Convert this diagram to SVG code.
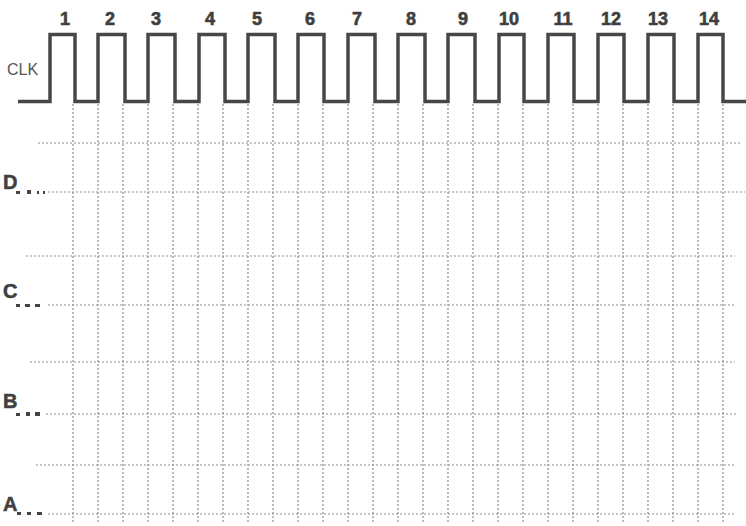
<svg xmlns="http://www.w3.org/2000/svg" width="746" height="526" viewBox="0 0 746 526">
<style>
.grid line{stroke:#8e8e8e;stroke-width:1.2;stroke-dasharray:2 2;fill:none}
.clk{fill:none;stroke:#474747;stroke-width:3.5;stroke-linejoin:miter}
.num{font-family:"Liberation Sans",Arial,sans-serif;font-weight:bold;font-size:18px;fill:#3f3f3f;stroke:#3f3f3f;stroke-width:0.6;text-anchor:middle}
.lab{font-family:"Liberation Sans",Arial,sans-serif;font-weight:bold;font-size:20px;fill:#404040;stroke:#404040;stroke-width:0.5}
.dots rect{fill:#444}
.clklab{font-family:"Liberation Sans",Arial,sans-serif;font-size:16px;fill:#555}
</style>
<rect width="746" height="526" fill="#ffffff"/>
<g id="connectors" class="grid">
<line x1="73" y1="104" x2="73" y2="522"/>
<line x1="98" y1="104" x2="98" y2="522"/>
<line x1="123" y1="104" x2="123" y2="522"/>
<line x1="148" y1="104" x2="148" y2="522"/>
<line x1="173" y1="104" x2="173" y2="522"/>
<line x1="198" y1="104" x2="198" y2="522"/>
<line x1="223" y1="104" x2="223" y2="522"/>
<line x1="248" y1="104" x2="248" y2="522"/>
<line x1="273" y1="104" x2="273" y2="522"/>
<line x1="298" y1="104" x2="298" y2="522"/>
<line x1="323" y1="104" x2="323" y2="522"/>
<line x1="348" y1="104" x2="348" y2="522"/>
<line x1="373" y1="104" x2="373" y2="522"/>
<line x1="398" y1="104" x2="398" y2="522"/>
<line x1="423" y1="104" x2="423" y2="522"/>
<line x1="448" y1="104" x2="448" y2="522"/>
<line x1="473" y1="104" x2="473" y2="522"/>
<line x1="498" y1="104" x2="498" y2="522"/>
<line x1="523" y1="104" x2="523" y2="522"/>
<line x1="548" y1="104" x2="548" y2="522"/>
<line x1="573" y1="104" x2="573" y2="522"/>
<line x1="598" y1="104" x2="598" y2="522"/>
<line x1="623" y1="104" x2="623" y2="522"/>
<line x1="648" y1="104" x2="648" y2="522"/>
<line x1="673" y1="104" x2="673" y2="522"/>
<line x1="698" y1="104" x2="698" y2="522"/>
<line x1="723" y1="104" x2="723" y2="522"/>
<line x1="38" y1="143" x2="740" y2="143"/>
<line x1="48" y1="192" x2="745" y2="192"/>
<line x1="26" y1="256" x2="735" y2="256"/>
<line x1="48" y1="305" x2="735" y2="305"/>
<line x1="30" y1="362" x2="735" y2="362"/>
<line x1="46" y1="414" x2="736" y2="414"/>
<line x1="36" y1="465" x2="735" y2="465"/>
<line x1="48" y1="514" x2="735" y2="514"/>
</g>
<g id="clk">
<text class="clklab" x="7" y="75">CLK</text>
<path class="clk" d="M18 101.5H50V34.5H75V101.5H98V34.5H125V101.5H148V34.5H175V101.5H199V34.5H225V101.5H248V34.5H275V101.5H298V34.5H324V101.5H348V34.5H375V101.5H398V34.5H425V101.5H448V34.5H475V101.5H499V34.5H524V101.5H548V34.5H574V101.5H598V34.5H624V101.5H648V34.5H674V101.5H698V34.5H723V101.5H746"/>
</g>
<g id="numbers">
<text class="num" x="65" y="25">1</text>
<text class="num" x="110" y="25">2</text>
<text class="num" x="156" y="25">3</text>
<text class="num" x="210" y="25">4</text>
<text class="num" x="257" y="25">5</text>
<text class="num" x="310" y="25">6</text>
<text class="num" x="357" y="25">7</text>
<text class="num" x="411" y="25">8</text>
<text class="num" x="463" y="25">9</text>
<text class="num" x="509" y="25">10</text>
<text class="num" x="563" y="25">11</text>
<text class="num" x="611" y="25">12</text>
<text class="num" x="658" y="25">13</text>
<text class="num" x="709" y="25">14</text>
</g>
<g id="D">
<text class="lab" x="3" y="189">D</text>
<g class="dots"><rect x="16" y="191" width="4" height="3"/><rect x="27" y="190" width="4" height="4"/><rect x="37" y="191" width="2" height="3"/><rect x="43" y="191" width="2" height="3"/></g>
</g>
<g id="C">
<text class="lab" x="3" y="298">C</text>
<g class="dots"><rect x="16" y="304" width="4" height="3"/><rect x="25" y="304" width="5" height="3"/><rect x="35" y="304" width="5" height="3"/></g>
</g>
<g id="B">
<text class="lab" x="3" y="408">B</text>
<g class="dots"><rect x="16" y="413" width="4" height="3"/><rect x="26" y="412" width="4" height="4"/><rect x="35" y="412" width="5" height="4"/></g>
</g>
<g id="A">
<text class="lab" x="3" y="511">A</text>
<g class="dots"><rect x="17" y="512" width="4" height="3"/><rect x="27" y="512" width="4" height="3"/><rect x="37" y="512" width="5" height="3"/></g>
</g>
</svg>
